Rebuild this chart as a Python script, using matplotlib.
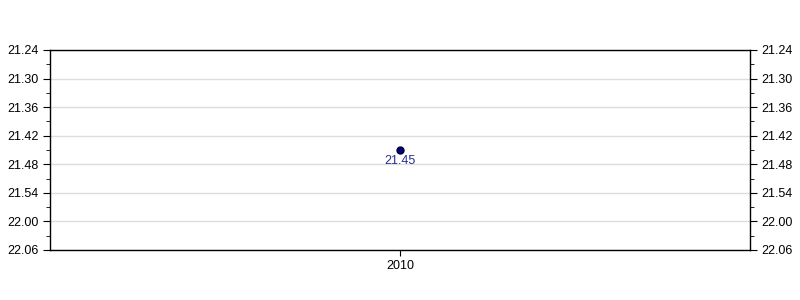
import matplotlib
matplotlib.use("Agg")
import matplotlib.pyplot as plt
from matplotlib.ticker import MultipleLocator, FuncFormatter

plt.rcParams['font.family'] = ['Liberation Sans', 'DejaVu Sans']

# data: year and time (minutes.seconds)
years = ["2010"]
times = ["21.45"]

def to_sec(s):
    m, sec = s.split(".")
    return int(m) * 60 + int(sec)

def fmt(v, pos=None):
    v = int(round(v))
    return "%d.%02d" % (v // 60, v % 60)

secs = [to_sec(t) for t in times]
y_top = to_sec("21.24")
y_bottom = to_sec("22.06")

fig = plt.figure(figsize=(8, 3), dpi=100)
ax = fig.add_axes([0.0625, 0.1667, 0.875, 0.6667])

x = list(range(len(years)))
ax.plot(x, secs, 'o', color='#000080', markersize=5, markeredgecolor='#000033', zorder=3)
for xi, s, t in zip(x, secs, times):
    ax.annotate(t, (xi, s), xytext=(0, -3.5), textcoords='offset points',
                ha='center', va='top', color='#2a2a99', fontsize=9)

ax.set_xlim(-1, 1)
ax.set_ylim(y_bottom, y_top)
ax.set_xticks(x)
ax.set_xticklabels(years)

ax.yaxis.set_major_locator(MultipleLocator(6))
ax.yaxis.set_minor_locator(MultipleLocator(3))
ax.yaxis.set_major_formatter(FuncFormatter(fmt))
ax.grid(axis='y', color='#dddddd', linewidth=1)
ax.set_axisbelow(True)

ax.tick_params(axis='y', which='major', length=5, labelsize=9, right=True, labelright=True, color='black')
ax.tick_params(axis='y', which='minor', length=3, right=True)
ax.tick_params(axis='x', length=4, labelsize=9)
for sp in ax.spines.values():
    sp.set_linewidth(1)

fig.savefig("out.png", dpi=100)
